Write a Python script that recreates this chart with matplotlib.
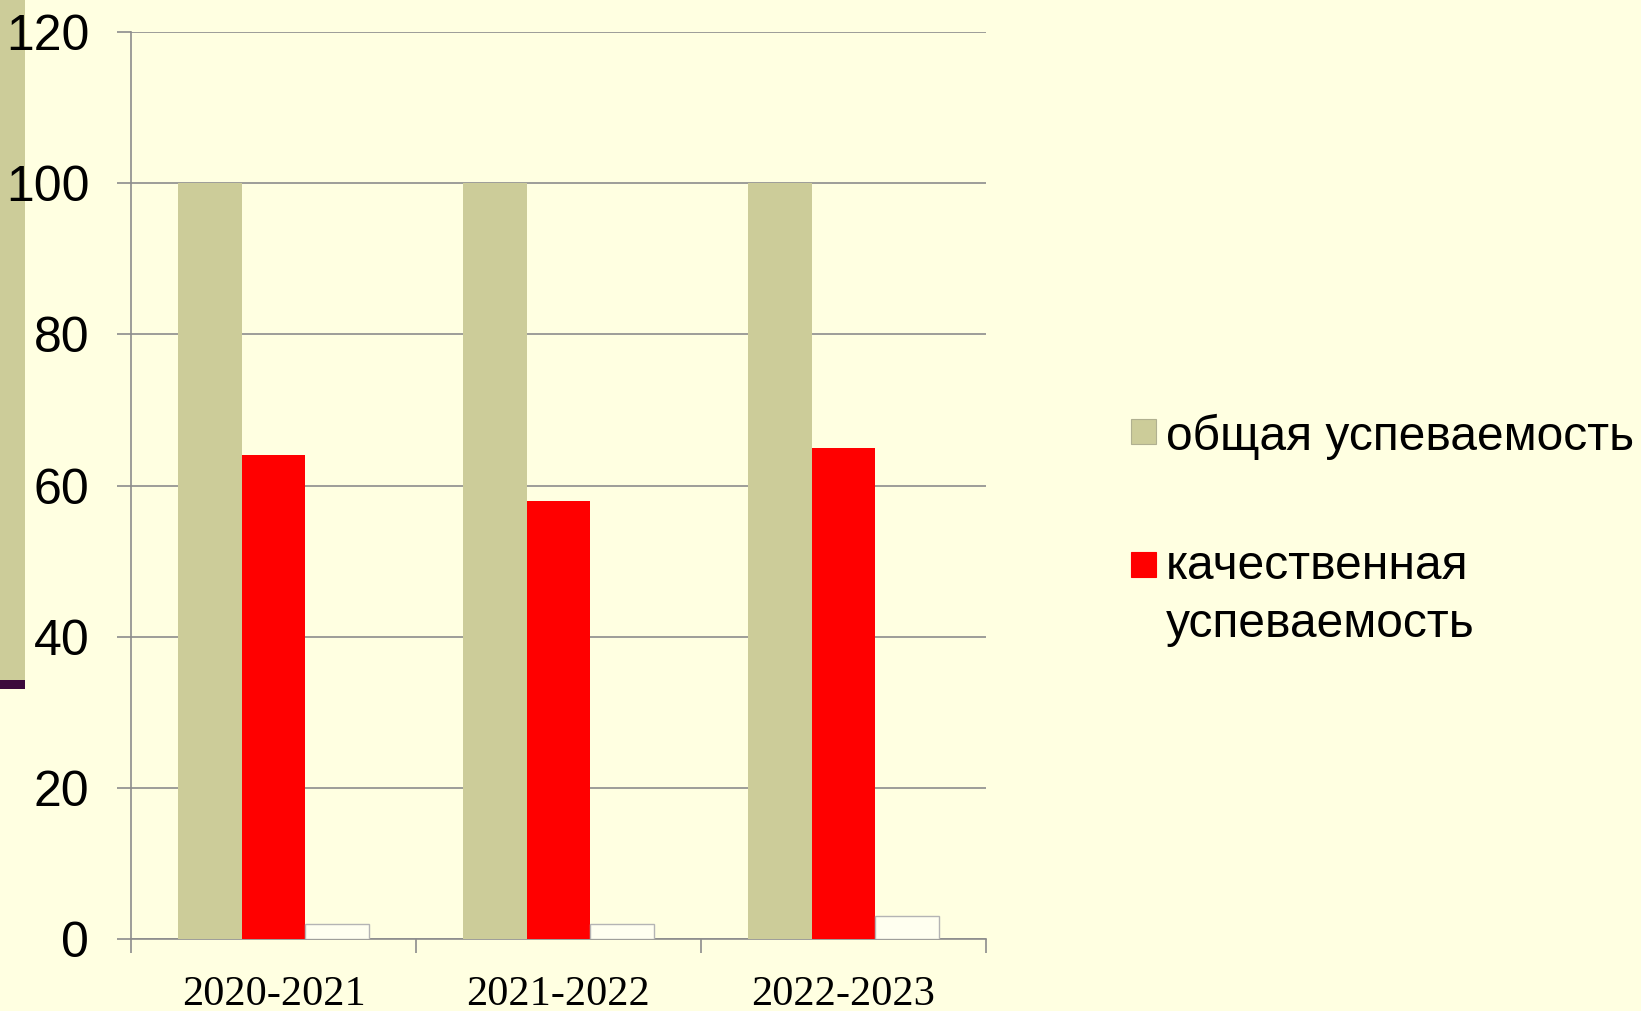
import numpy as np
import matplotlib.pyplot as plt
from matplotlib.patches import Rectangle

# data
years = ['2020-2021', '2021-2022', '2022-2023']
overall = [100, 100, 100]          # общая успеваемость
quality = [64, 58, 65]             # качественная успеваемость
third = [2, 2, 3]                  # unlabeled small series
labels = ['общая успеваемость', 'качественная\nуспеваемость']

BG = '#FFFFE1'
KHAKI = '#CCCC99'
RED = '#FF0000'
GRID = '#8C8C8C'

fig = plt.figure(figsize=(16.41, 10.11), dpi=100, facecolor=BG)
ax = fig.add_axes([131 / 1641, 1 - 939 / 1011, (986 - 131) / 1641, (939 - 32) / 1011])
ax.set_facecolor(BG)

# decoration strip on the left edge (behind the tick labels)
fig.patches.append(Rectangle((0, 322 / 1011), 25 / 1641, 1 - 322 / 1011,
                             transform=fig.transFigure, facecolor=KHAKI, edgecolor='none', zorder=-2))
fig.patches.append(Rectangle((0, 322 / 1011), 25 / 1641, 9 / 1011,
                             transform=fig.transFigure, facecolor='#3C0A3C', edgecolor='none', zorder=-2))
ax.set_zorder(1)
ax.patch.set_alpha(0)

x = np.arange(len(years))
w = 0.224
ax.bar(x - w, overall, w, color=KHAKI, zorder=3)
ax.bar(x, quality, w, color=RED, zorder=3)
ax.bar(x + w, third, w, color='#FFFFF0', edgecolor='#B4B4B4', linewidth=1, zorder=3)

ax.set_xlim(-0.5, 2.5)
ax.set_ylim(0, 120)
ax.set_yticks(np.arange(0, 121, 20))
ax.yaxis.grid(True, color=GRID, linewidth=1.2)
ax.set_axisbelow(True)

ax.set_xticks(x)
ax.set_xticklabels(years, fontfamily='Liberation Serif', fontsize=30.5)
ax.set_xticks(np.arange(-0.5, 2.6, 1), minor=True)
ax.tick_params(axis='x', which='major', length=0, pad=26)
ax.tick_params(axis='x', which='minor', length=10, color=GRID, width=1.2)
ax.tick_params(axis='y', length=10, color=GRID, width=1.2, pad=20, labelsize=36)
for t in ax.get_yticklabels():
    t.set_fontfamily('Liberation Sans')

for s in ['top', 'right']:
    ax.spines[s].set_visible(False)
for s in ['left', 'bottom']:
    ax.spines[s].set_color(GRID)
    ax.spines[s].set_linewidth(1.2)

# legend drawn by hand to match the layout
rows = [432, 565]        # swatch centres, px from top
baselines = [450, 579]   # first-line baselines, px from top
for lab, col, yc, yb in zip(labels, [KHAKI, RED], rows, baselines):
    fig.patches.append(Rectangle((1131 / 1641, 1 - (yc + 12) / 1011), 25 / 1641, 25 / 1011,
                                 transform=fig.transFigure, facecolor=col,
                                 edgecolor='#B0B090' if col == KHAKI else col, linewidth=0.8))
    for i, line in enumerate(lab.split('\n')):
        fig.text(1166 / 1641, 1 - (yb + 58 * i) / 1011, line, fontsize=34.5,
                 fontfamily='Liberation Sans', va='baseline', ha='left')

fig.savefig('out.png', dpi=100, facecolor=BG)
